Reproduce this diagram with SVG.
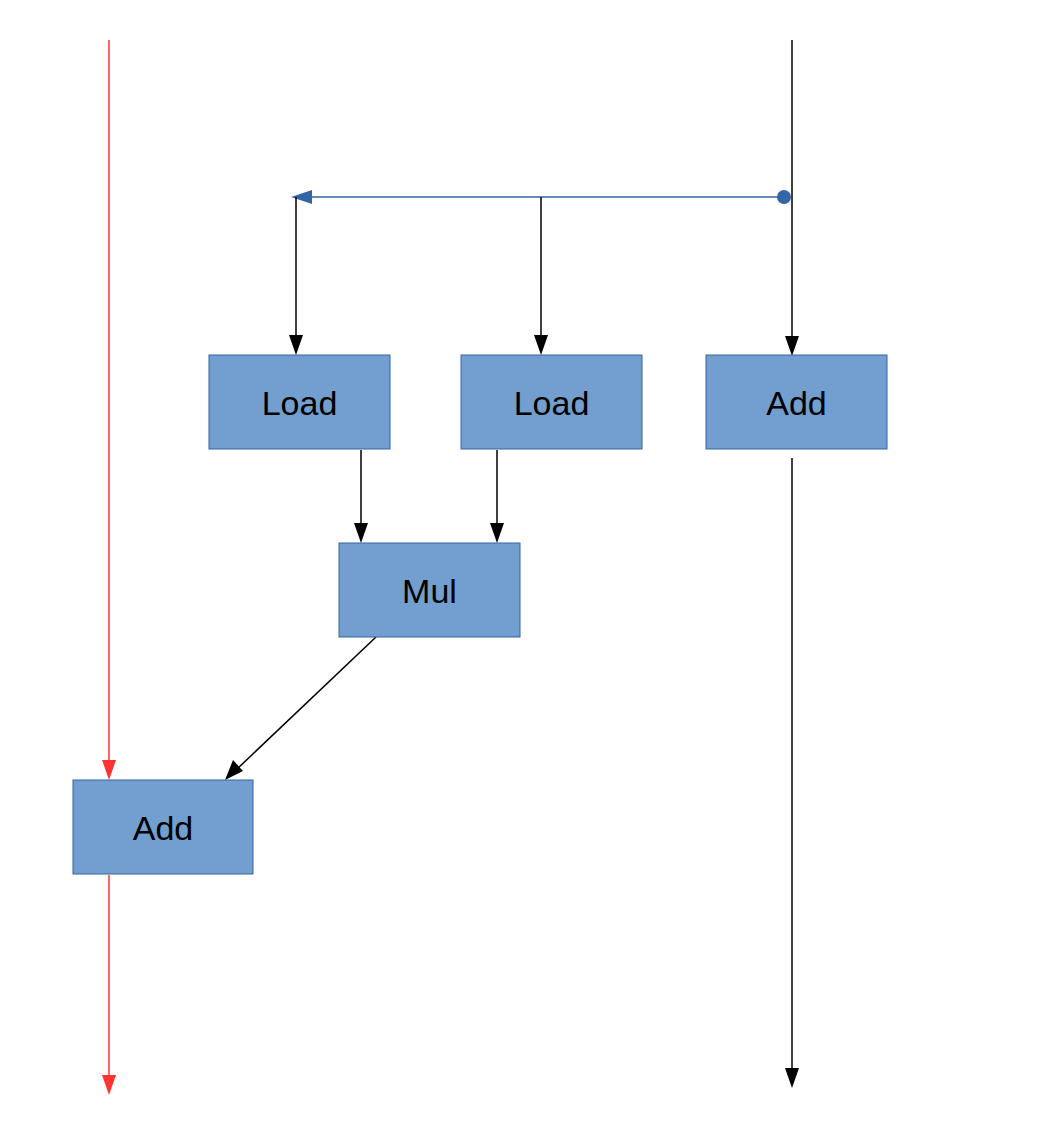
<svg xmlns="http://www.w3.org/2000/svg" width="1053" height="1140" viewBox="0 0 1053 1140">
<style>
.node rect{fill:#729fcf;stroke:#3465a4;stroke-width:1}
.node text{font-family:"Liberation Sans",Arial,sans-serif;font-size:34px;fill:#000;text-anchor:middle}
.blk{stroke:#000;stroke-width:1.5;fill:none}
.red{stroke:#ff3333;stroke-width:1.5;fill:none}
.blue{stroke:#3465a4;stroke-width:1.5;fill:none}
</style>
<defs>
<marker id="ab" markerWidth="14" markerHeight="20" refX="7" refY="20" orient="auto-start-reverse" markerUnits="userSpaceOnUse" viewBox="0 0 14 20"><path d="M0,0 L14,0 L7,20 Z" fill="#000"/></marker>
</defs>
<rect width="1053" height="1140" fill="#fff"/>
<g id="connectors">
<line class="red" x1="109" y1="40" x2="109" y2="762"/>
<polygon points="102,760 116,760 109,780" fill="#ff3333"/>
<line class="red" x1="109" y1="875" x2="109" y2="1078"/>
<polygon points="102,1075 116,1075 109,1095" fill="#ff3333"/>
<line class="blk" x1="792" y1="40" x2="792" y2="338"/>
<polygon points="785,336 799,336 792,356" fill="#000"/>
<line class="blk" x1="792" y1="458" x2="792" y2="1070"/>
<polygon points="785,1068 799,1068 792,1088" fill="#000"/>
<line class="blue" x1="784" y1="197" x2="308" y2="197"/>
<circle cx="784" cy="197" r="7" fill="#3465a4"/>
<polygon points="291,197 312,190 312,204" fill="#3465a4"/>
<line class="blk" x1="296" y1="197" x2="296" y2="338"/>
<polygon points="289,335 303,335 296,355" fill="#000"/>
<line class="blk" x1="541" y1="197" x2="541" y2="338"/>
<polygon points="534,335 548,335 541,355" fill="#000"/>
<line class="blk" x1="361" y1="450" x2="361" y2="526"/>
<polygon points="354,523 368,523 361,543" fill="#000"/>
<line class="blk" x1="497" y1="450" x2="497" y2="526"/>
<polygon points="490,523 504,523 497,543" fill="#000"/>
<line class="blk" x1="376" y1="637" x2="236" y2="770"/>
<polygon points="225,780 233,760 243,771" fill="#000"/>
</g>
<g id="load1" class="node"><rect x="209" y="355" width="181" height="94"/><text x="299.5" y="415">Load</text></g>
<g id="load2" class="node"><rect x="461" y="355" width="181" height="94"/><text x="551.5" y="415">Load</text></g>
<g id="add1" class="node"><rect x="706" y="355" width="181" height="94"/><text x="796.5" y="415">Add</text></g>
<g id="mul" class="node"><rect x="339" y="543" width="181" height="94"/><text x="429.5" y="603">Mul</text></g>
<g id="add2" class="node"><rect x="73" y="780" width="180" height="94"/><text x="163" y="840">Add</text></g>
</svg>
